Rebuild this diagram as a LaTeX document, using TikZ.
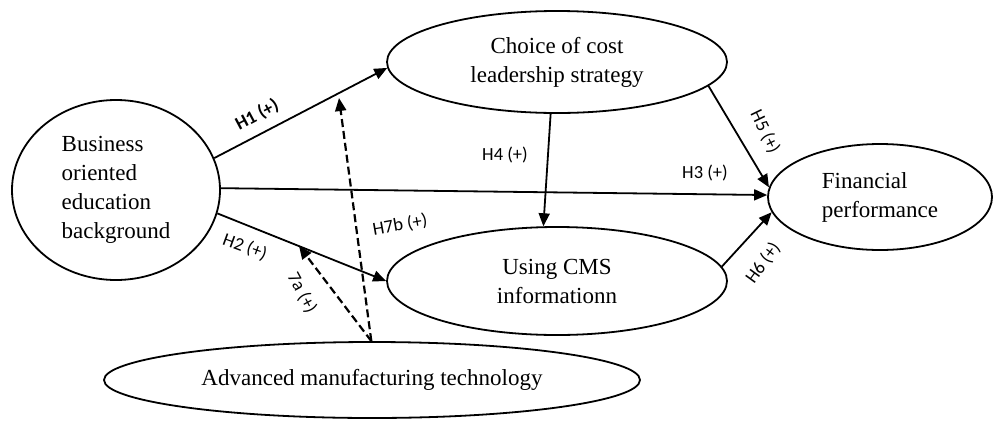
\documentclass[tikz,border=0pt]{standalone}
\usepackage{fontspec}
\setmainfont{Liberation Serif}
\newfontfamily\lblfont{Carlito}
\usetikzlibrary{arrows.meta,shapes.geometric}
\begin{document}
\begin{tikzpicture}[x=1pt,y=-1pt,
  var/.style={ellipse,draw,line width=1.8pt,inner sep=0pt,font=\fontsize{23}{29}\selectfont},
  causal/.style={line width=1.8pt,-{Triangle[length=13pt,width=11pt]}},
  modpath/.style={causal,line width=2.2pt,dash pattern=on 8pt off 4pt},
  hyp/.style={font=\lblfont\fontsize{18.5}{20}\selectfont,inner sep=1pt}]
\useasboundingbox (0,0) rectangle (994,421);
% variables
\node[var,minimum width=208pt,minimum height=180pt,align=left] (biz) at (116,190)
  {Business\\oriented\\education\\background};
\node[var,minimum width=340pt,minimum height=102pt,align=center] (cost) at (557,62)
  {Choice of cost\\leadership strategy};
\node[var,minimum width=340pt,minimum height=108pt,align=center] (cms) at (557,281)
  {Using CMS\\informationn};
\node[var,minimum width=224pt,minimum height=106pt,align=left] (fin) at (880,197)
  {Financial\\performance};
\node[var,minimum width=536pt,minimum height=76pt] (amt) at (372,380)
  {Advanced manufacturing technology};
% free ends of moderating arrows
\coordinate (h7b) at (339,98);
\coordinate (h7a) at (299,246);
% paths
\draw[causal] (biz.18) -- (cost.182);
\draw[causal] (biz.1) -- (fin.179);
\draw[causal] (biz.-13) -- (cms.180);
\draw[causal] (cost.-97) -- (cms.104);
\draw[causal] (cost.-9) -- (fin.175);
\draw[causal] (cms.5) -- (fin.188);
\draw[modpath] (amt.91) -- (h7b);
\draw[modpath] (amt.91) -- (h7a);
% labels
\node[hyp,rotate=28,font=\lblfont\bfseries\fontsize{18.5}{20}\selectfont] (l1) at (257,115) {H1 (+)};
\node[hyp,rotate=-20] (l2) at (245,247) {H2 (+)};
\node[hyp] (l3) at (705,173) {H3 (+)};
\node[hyp] (l4) at (505,155) {H4 (+)};
\node[hyp,rotate=-64] (l5) at (765,132) {H5 (+)};
\node[hyp,rotate=54] (l6) at (763,263) {H6 (+)};
\node[hyp,rotate=10] (l7b) at (400,225) {H7b (+)};
\node[hyp,rotate=-62] (l7a) at (302,293) {7a (+)};
\end{tikzpicture}
\end{document}
